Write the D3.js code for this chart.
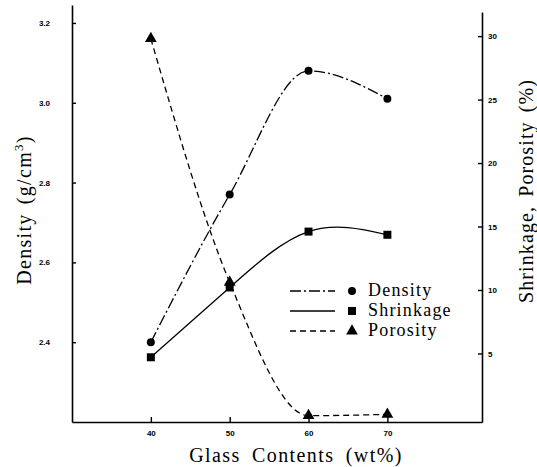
<!DOCTYPE html>
<html>
<head>
<meta charset="utf-8">
<script src="https://cdn.jsdelivr.net/npm/d3@7"></script>
<style>
  body { margin: 0; background: #fff; }
  svg { display: block; }
</style>
</head>
<body>
<svg id="chart"></svg>
<script>
const w = 537;
const h = 467;

// data
const glass = [40, 50, 60, 70];
const density = [2.40, 2.77, 3.08, 3.01];
const shrinkage = [4.7, 10.2, 14.6, 14.35];
const porosity = [29.8, 10.6, 0.1, 0.2];
const xTicks = [40, 50, 60, 70];
const densityTicks = [2.4, 2.6, 2.8, 3.0, 3.2];
const pctTicks = [5, 10, 15, 20, 25, 30];
const seriesNames = ["Density", "Shrinkage", "Porosity"];

const svg = d3.select("#chart")
  .attr("width", w)
  .attr("height", h)
  .attr("viewBox", [0, 0, w, h]);

const left = 72, right = 482, bottom = 422;

const x = d3.scaleLinear().domain([30, 82]).range([left, right]);
const yDen = d3.scaleLinear().domain([2.2, 3.245]).range([bottom, 5]);
const yPct = d3.scaleLinear().domain([-0.4, 31.9]).range([bottom, 12]);

const serif = "'Liberation Serif', 'DejaVu Serif', serif";
const tickFont = "'Liberation Sans', 'DejaVu Sans', sans-serif";

function styleAxis(g) {
  g.select(".domain").attr("stroke", "#000").attr("stroke-width", 1.6);
  g.selectAll(".tick line").attr("stroke", "#000").attr("stroke-width", 1.4);
  g.selectAll(".tick text")
    .attr("fill", "#000")
    .attr("font-family", tickFont)
    .attr("font-weight", "bold")
    .attr("font-size", 8);
}

svg.append("g")
  .attr("transform", `translate(${left},0)`)
  .call(d3.axisLeft(yDen).tickValues(densityTicks).tickFormat(d3.format(".1f"))
    .tickSizeInner(-4).tickSizeOuter(0).tickPadding(22))
  .call(styleAxis);

svg.append("g")
  .attr("transform", `translate(${right},0)`)
  .call(d3.axisRight(yPct).tickValues(pctTicks)
    .tickSizeInner(-4).tickSizeOuter(0).tickPadding(6))
  .call(styleAxis);

svg.append("g")
  .attr("transform", `translate(0,${bottom})`)
  .call(d3.axisBottom(x).tickValues(xTicks)
    .tickSizeInner(-5).tickSizeOuter(0).tickPadding(8))
  .call(styleAxis);

// axis titles
svg.append("text")
  .attr("transform", `translate(31,210) rotate(-90)`)
  .attr("text-anchor", "middle")
  .attr("font-family", serif)
  .attr("font-size", 20)
  .attr("letter-spacing", 1.3)
  .attr("word-spacing", 3)
  .html('Density (g/cm<tspan dy="-8" font-size="13">3</tspan><tspan dy="8">)</tspan>');

svg.append("text")
  .attr("transform", `translate(533,191) rotate(-90)`)
  .attr("text-anchor", "middle")
  .attr("font-family", serif)
  .attr("font-size", 20)
  .attr("letter-spacing", 1.1)
  .attr("word-spacing", 3)
  .text("Shrinkage, Porosity (%)");

svg.append("text")
  .attr("x", 296)
  .attr("y", 462)
  .attr("text-anchor", "middle")
  .attr("font-family", serif)
  .attr("font-size", 20)
  .attr("letter-spacing", 1.4)
  .attr("word-spacing", 5)
  .text("Glass Contents (wt%)");

// series
const series = [
  { name: seriesNames[0], vals: density, y: yDen, dash: "11,3,2,3", curve: d3.curveMonotoneX, marker: d3.symbolCircle, size: 50 },
  { name: seriesNames[1], vals: shrinkage, y: yPct, dash: null, curve: d3.curveNatural, marker: d3.symbolSquare, size: 64 },
  { name: seriesNames[2], vals: porosity, y: yPct, dash: "6,4", curve: d3.curveMonotoneX, marker: d3.symbolTriangle, size: 60 }
];

series.forEach(s => {
  const pts = glass.map((g, i) => [x(g), s.y(s.vals[i])]);
  svg.append("path")
    .attr("d", d3.line().curve(s.curve)(pts))
    .attr("fill", "none")
    .attr("stroke", "#000")
    .attr("stroke-width", 1.3)
    .attr("stroke-dasharray", s.dash);
  svg.append("g")
    .selectAll("path")
    .data(pts)
    .join("path")
    .attr("transform", d => `translate(${d[0]},${d[1]})`)
    .attr("d", d3.symbol().type(s.marker).size(s.size))
    .attr("fill", "#000");
});

// legend
const legend = svg.append("g");
series.forEach((s, i) => {
  const ly = 291 + i * 20;
  legend.append("line")
    .attr("x1", 290).attr("x2", 335)
    .attr("y1", ly).attr("y2", ly)
    .attr("stroke", "#000")
    .attr("stroke-width", 1.3)
    .attr("stroke-dasharray", s.dash);
  legend.append("path")
    .attr("transform", `translate(352,${ly})`)
    .attr("d", d3.symbol().type(s.marker).size(s.size))
    .attr("fill", "#000");
  legend.append("text")
    .attr("x", 368)
    .attr("y", ly + 5)
    .attr("font-family", serif)
    .attr("font-size", 18)
    .attr("letter-spacing", 1.2)
    .text(s.name);
});
</script>
</body>
</html>
